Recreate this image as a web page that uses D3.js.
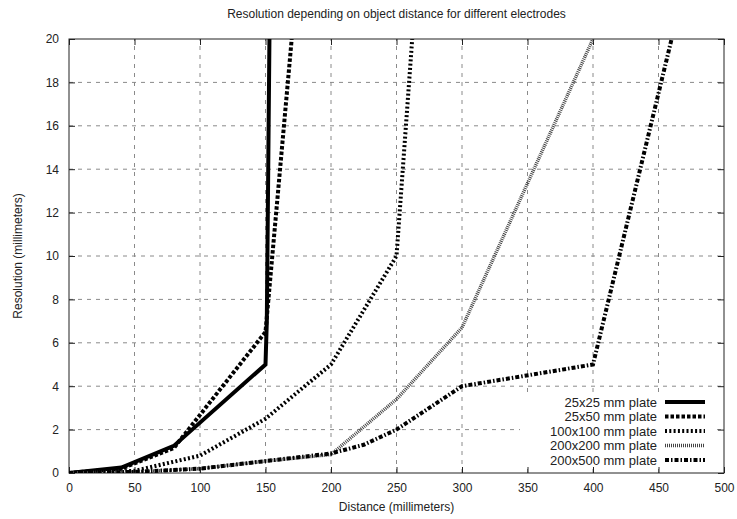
<!DOCTYPE html>
<html><head><meta charset="utf-8">
<script src="https://cdn.jsdelivr.net/npm/d3@7"></script>
<style>body{margin:0;background:#fff}svg{display:block}text{font-family:"Liberation Sans",Arial,sans-serif;fill:#222}</style>
</head><body>
<svg id="c" width="737" height="519"></svg>
<script>
const title = "Resolution depending on object distance for different electrodes";
const xLabel = "Distance (millimeters)";
const yLabel = "Resolution (millimeters)";
const xTicks = [0,50,100,150,200,250,300,350,400,450,500];
const yTicks = [0,2,4,6,8,10,12,14,16,18,20];
const seriesNames = ["25x25 mm plate","25x50 mm plate","100x100 mm plate","200x200 mm plate","200x500 mm plate"];
const s25x25 = [[0,0],[40,0.25],[80,1.25],[150,5],[151,7],[153,20]];
const s25x50 = [[0,0],[40,0.2],[80,1.15],[150,6.5],[170,20]];
const s100x100 = [[0,0],[50,0.1],[100,0.8],[150,2.5],[200,5],[250,10],[262,20]];
const s200x200 = [[0,0],[50,0.05],[100,0.2],[150,0.55],[200,0.85],[250,3.4],[300,6.7],[400,20]];
const s200x500 = [[0,0],[50,0.05],[100,0.2],[150,0.55],[200,0.9],[225,1.3],[250,2],[300,4],[400,5],[460,20]];
const allSeries = [s25x25,s25x50,s100x100,s200x200,s200x500];

const styles = [
  {stroke:"#000", width:4, dash:null},
  {stroke:"#000", width:4, dash:"3.5,2"},
  {stroke:"#000", width:4, dash:"2,2.3"},
  {stroke:"#444", width:3.5, dash:"1,1"},
  {stroke:"#000", width:4, dash:"4,2,1.5,2"}
];

const svg = d3.select("#c");
const L=69, R=724, T=39, B=473;
const x = d3.scaleLinear().domain([0,500]).range([L,R]);
const y = d3.scaleLinear().domain([0,20]).range([B,T]);

svg.append("defs").append("clipPath").attr("id","clip")
  .append("rect").attr("x",L).attr("y",T).attr("width",R-L).attr("height",B-T);

// grid
const grid = svg.append("g").attr("stroke","#8a8a8a").attr("stroke-width",1).attr("stroke-dasharray","4,5");
xTicks.slice(1,-1).forEach(v=>grid.append("line").attr("x1",x(v)).attr("x2",x(v)).attr("y1",B).attr("y2",T));
yTicks.slice(1,-1).forEach(v=>grid.append("line").attr("x1",L).attr("x2",R).attr("y1",y(v)).attr("y2",y(v)));

// legend background (blanks grid)
svg.append("rect").attr("x",520).attr("y",394).attr("width",197).attr("height",75).attr("fill","#fff");

// axes with inward ticks, mirrored
const tickLen = 6;
svg.append("g").attr("transform",`translate(0,${B})`)
  .call(d3.axisBottom(x).tickValues(xTicks).tickSizeInner(-tickLen).tickSizeOuter(0).tickPadding(10))
  .call(g=>{g.select(".domain").remove(); g.selectAll("text").attr("font-size",12).attr("fill","#222");});
svg.append("g").attr("transform",`translate(0,${T})`)
  .call(d3.axisTop(x).tickValues(xTicks).tickSizeInner(-tickLen).tickSizeOuter(0).tickFormat(""))
  .call(g=>g.select(".domain").remove());
svg.append("g").attr("transform",`translate(${L},0)`)
  .call(d3.axisLeft(y).tickValues(yTicks).tickSizeInner(-tickLen).tickSizeOuter(0).tickPadding(10))
  .call(g=>{g.select(".domain").remove(); g.selectAll("text").attr("font-size",12).attr("fill","#222");});
svg.append("g").attr("transform",`translate(${R},0)`)
  .call(d3.axisRight(y).tickValues(yTicks).tickSizeInner(-tickLen).tickSizeOuter(0).tickFormat(""))
  .call(g=>g.select(".domain").remove());
svg.selectAll(".tick line").attr("stroke","#222");

// frame
svg.append("rect").attr("x",L).attr("y",T).attr("width",R-L).attr("height",B-T)
  .attr("fill","none").attr("stroke","#222").attr("stroke-width",1);

// lines
const line = d3.line().x(d=>x(d[0])).y(d=>y(d[1]));
const lg = svg.append("g").attr("clip-path","url(#clip)");
allSeries.forEach((s,i)=>{
  const st = styles[i];
  lg.append("path").datum(s).attr("d",line).attr("fill","none")
    .attr("stroke",st.stroke).attr("stroke-width",st.width)
    .attr("stroke-dasharray",st.dash).attr("stroke-linejoin","miter");
});

// legend
const legY = [402,416.5,431,445.5,460];
seriesNames.forEach((n,i)=>{
  const st = styles[i];
  svg.append("text").attr("x",657).attr("y",legY[i]).attr("dy","0.35em")
    .attr("text-anchor","end").attr("font-size",13).text(n);
  svg.append("line").attr("x1",665).attr("x2",705).attr("y1",legY[i]).attr("y2",legY[i])
    .attr("stroke",st.stroke).attr("stroke-width",st.width).attr("stroke-dasharray",st.dash);
});

// titles
svg.append("text").attr("x",(L+R)/2).attr("y",14).attr("dy","0.35em").attr("text-anchor","middle")
  .attr("font-size",12).text(title);
svg.append("text").attr("x",(L+R)/2).attr("y",507).attr("dy","0.35em").attr("text-anchor","middle")
  .attr("font-size",12).text(xLabel);
svg.append("text").attr("transform",`translate(18,${(T+B)/2}) rotate(-90)`).attr("dy","0.35em")
  .attr("text-anchor","middle").attr("font-size",12).text(yLabel);
</script>
</body></html>
